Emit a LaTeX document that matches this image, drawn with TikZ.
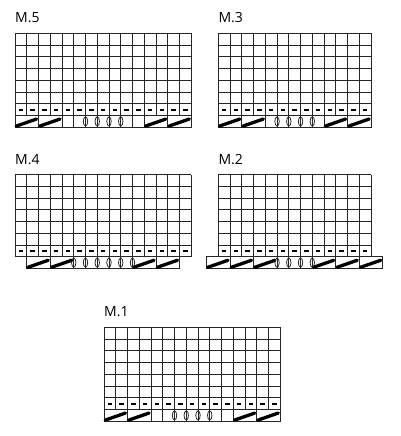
\documentclass[tikz,border=0pt]{standalone}
\usepackage{fontspec}
\setmainfont{Open Sans}
\usepackage{tikz}

\def\cw{11.75}
% #1 name, #2 label, #3 left, #4 top, #5 columns,
% #6 first and #7 last line of the bottom row, #8 decreases, #9 yarn overs
\newcommand{\knitchart}[9]{%
  \begin{scope}[shift={(#3,#4)}]
    \node[chart title] (#1) at (0,-10.5) {#2};
    \foreach \i in {0,...,#5}
      \draw[grid line] ({\i*\cw},0) -- ({\i*\cw},{7*\cw});
    \foreach \j in {0,...,7}
      \draw[grid line] (0,{\j*\cw}) -- ({#5*\cw},{\j*\cw});
    \foreach \i in {1,...,#5}
      \draw[purl] ({(\i-0.5)*\cw-2.2},{6.5*\cw}) -- ++(4.4,0);
    \foreach \i in {#6,...,#7}
      \draw[grid line] ({\i*\cw},{7*\cw}) -- ({\i*\cw},{8*\cw});
    \draw[grid line] ({#6*\cw},{8*\cw}) -- ({#7*\cw},{8*\cw});
    \foreach \b in {#8} {
      \draw[grid line, fill=white] ({\b*\cw},{7*\cw}) rectangle ({(\b+2)*\cw},{8*\cw});
      \draw[decrease] ({\b*\cw+1.2},{8*\cw-1.2}) -- ({(\b+2)*\cw-2},{7*\cw+3.5});
    }
    \foreach \o in {#9}
      \draw[yarn over] ({\o*\cw},{7.5*\cw}) ellipse [x radius=2.2pt, y radius=4.6pt];
  \end{scope}%
}

\begin{document}
\begin{tikzpicture}[x=1pt, y=-1pt,
    grid line/.style={draw=black!85, line width=0.8pt},
    purl/.style={draw=black, line width=2.1pt},
    decrease/.style={draw=black, line width=3.3pt, line cap=round},
    yarn over/.style={draw=black!85, line width=0.8pt},
    chart title/.style={anchor=base west, inner sep=0pt, font=\fontsize{14}{16}\selectfont}]
    \useasboundingbox (0,0) rectangle (400,436);
    \knitchart{m5}{M.5}{15}{33.3}{15}{0}{15}{0,2,11,13}{6,7,8,9}
    \knitchart{m3}{M.3}{218.3}{33.3}{13}{0}{13}{0,2,9,11}{5,6,7,8}
    \knitchart{m4}{M.4}{15}{174.5}{15}{1}{14}{1,3,10,12}{5,6,7,8,9,10}
    \knitchart{m2}{M.2}{218.3}{174.5}{13}{-1}{14}{-1,1,3,8,10,12}{5,6,7,8}
    \knitchart{m1}{M.1}{104}{327.3}{15}{0}{15}{0,2,11,13}{6,7,8,9}
  \end{tikzpicture}
\end{document}
